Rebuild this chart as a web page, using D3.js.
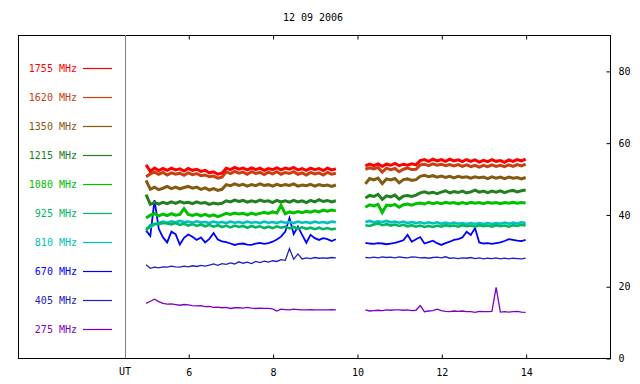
<!DOCTYPE html>
<html><head><meta charset="utf-8">
<script src="https://cdn.jsdelivr.net/npm/d3@7"></script>
<style>body{margin:0;background:#fff}svg{display:block}text{font-family:"DejaVu Sans Mono",monospace;font-size:10px}</style>
</head><body><svg id="c" width="640" height="384"></svg>
<script>
const title = "12 09 2006";
const xTicks = [6, 8, 10, 12, 14];
const yTicks = [0, 20, 40, 60, 80];
const freqs = ["1755 MHz","1620 MHz","1350 MHz","1215 MHz","1080 MHz","925 MHz","810 MHz","670 MHz","405 MHz","275 MHz"];
const colors = ["#ff0000","#c84010","#845a10","#208020","#00c000","#00b860","#00c0c0","#0000ff","#2020c0","#8000c0"];
const times1 = [5.0,5.1,5.2,5.3,5.4,5.5,5.6,5.7,5.8,5.9,6.0,6.1,6.2,6.3,6.4,6.5,6.6,6.7,6.8,6.9,7.0,7.1,7.2,7.3,7.4,7.5,7.6,7.7,7.8,7.9,8.0,8.1,8.2,8.3,8.4,8.5,8.6,8.7,8.8,8.9,9.0,9.1,9.2,9.3,9.4,9.5];
const times2 = [10.2,10.3,10.4,10.5,10.6,10.7,10.8,10.9,11.0,11.1,11.2,11.3,11.4,11.5,11.6,11.7,11.8,11.9,12.0,12.1,12.2,12.3,12.4,12.5,12.6,12.7,12.8,12.9,13.0,13.1,13.2,13.3,13.4,13.5,13.6,13.7,13.8,13.9,14.0];

const s1755a = [53.8,52.0,52.9,52.2,52.8,52.3,52.9,52.4,52.7,52.1,52.8,52.3,52.6,52.0,52.3,51.6,51.9,51.2,51.5,52.9,52.5,53.1,52.6,52.9,52.4,53.0,52.5,52.9,52.3,52.8,52.5,53.0,52.4,52.9,52.6,53.1,52.4,52.8,52.3,52.9,52.5,52.8,52.2,52.9,52.4,52.7];
const s1620a = [50.5,51.3,51.8,51.2,51.7,51.0,51.6,51.2,51.5,50.9,51.6,51.1,51.4,50.8,51.0,50.5,50.7,50.1,50.4,51.9,51.4,52.0,51.5,51.8,51.2,51.9,51.4,51.7,51.1,51.8,51.3,51.9,51.2,51.7,51.4,51.9,51.2,51.6,51.0,51.7,51.3,51.6,51.0,51.7,51.2,51.5];
const s1350a = [49.5,47.0,47.6,46.9,47.3,47.8,47.2,47.6,47.1,47.5,47.8,47.3,47.6,47.0,47.4,46.8,47.2,46.7,47.0,48.3,48.0,48.5,48.1,48.4,47.9,48.3,48.0,48.5,48.1,48.3,47.9,48.4,48.0,48.3,48.1,48.5,47.9,48.2,48.0,48.4,47.9,48.3,48.0,48.2,47.8,48.2];
const s1215a = [45.5,42.8,43.3,42.9,43.4,43.0,43.5,43.1,43.6,43.2,43.4,43.0,43.5,43.1,43.3,42.8,43.2,42.9,43.1,43.8,43.5,44.0,43.6,43.9,43.4,43.8,43.5,44.0,43.6,43.8,43.3,43.9,43.5,43.8,43.4,43.9,43.5,43.8,43.3,43.9,43.5,44.1,43.6,43.9,43.5,43.8];
const s1080a = [39.0,39.8,40.2,39.6,40.1,39.7,40.2,39.8,40.0,41.6,40.0,39.7,40.1,39.6,40.0,39.5,39.9,39.4,39.8,40.3,40.0,40.4,40.1,40.3,39.9,40.4,40.0,40.3,40.6,40.3,40.7,40.4,42.5,40.2,40.7,40.4,40.8,40.5,40.9,40.6,41.0,40.7,41.2,40.9,41.2,41.0];
const s925a = [35.5,37.0,37.4,37.3,37.6,37.5,37.2,37.6,37.1,37.4,36.9,37.3,36.8,37.2,36.7,37.1,36.6,37.0,36.5,36.9,36.4,36.9,36.5,36.8,36.3,36.8,36.4,36.7,36.2,36.6,36.2,36.7,36.3,36.6,36.1,36.5,36.0,36.4,36.0,36.3,35.9,36.3,35.9,36.2,35.8,36.1];
const s810a = [36.0,36.5,37.2,37.6,38.0,37.7,38.1,37.8,38.2,37.9,38.0,37.7,38.1,37.8,37.9,37.6,38.0,37.7,37.9,37.6,38.0,37.7,37.9,37.6,38.0,37.7,37.9,37.6,38.0,37.7,37.9,37.6,38.0,37.7,37.9,37.6,38.0,37.7,37.9,37.6,38.0,37.7,37.9,37.6,38.0,37.8];
const s670a = [35.5,34.0,44.0,36.0,33.6,32.2,35.2,34.5,31.6,33.5,34.4,33.8,32.9,33.6,32.2,33.2,34.8,33.0,32.5,32.3,31.9,31.5,31.8,31.9,31.6,31.5,31.9,32.1,31.8,32.0,32.4,33.0,33.8,35.2,39.0,34.5,36.6,34.3,32.1,34.3,33.4,32.9,33.4,33.1,32.6,33.1];
const s405a = [26.0,25.0,25.3,25.1,25.4,25.3,25.6,25.4,25.3,25.6,25.4,25.7,25.5,25.8,25.6,25.9,26.2,25.8,26.3,26.1,26.5,26.2,26.8,26.4,26.7,26.3,26.9,26.6,27.0,26.7,27.1,26.9,27.4,27.2,30.5,27.5,29.0,27.6,27.9,27.7,28.0,27.8,27.9,27.8,28.0,27.9];
const s275a = [15.2,15.8,16.4,15.7,15.2,15.0,15.1,14.9,14.7,14.9,14.8,14.6,14.5,14.6,14.3,14.4,14.1,14.2,14.0,14.1,13.8,14.0,14.0,13.9,14.1,13.9,13.8,13.9,13.8,13.8,13.7,13.1,13.6,13.5,13.4,13.6,13.5,13.4,13.4,13.5,13.4,13.4,13.4,13.4,13.5,13.4];

const s1755b = [53.5,54.0,53.6,54.1,53.4,54.0,53.7,54.2,53.6,54.0,53.7,54.1,53.8,55.0,55.3,54.8,55.4,54.9,55.3,54.8,55.4,54.9,55.2,54.7,55.3,54.8,55.2,54.6,55.1,54.7,55.3,54.8,55.0,54.5,55.2,54.8,55.3,54.9,55.4];
const s1620b = [52.6,53.0,52.7,53.1,51.8,52.9,52.5,52.8,51.9,52.6,52.9,52.5,52.6,53.8,54.0,53.6,54.1,53.7,54.0,53.6,53.9,53.5,53.9,53.4,53.8,53.3,53.7,53.2,53.7,53.3,53.8,53.4,53.7,53.3,53.8,53.4,53.9,53.5,54.0];
const s1350b = [48.5,50.0,49.6,50.1,48.6,49.9,49.6,50.0,48.8,49.7,49.9,49.5,49.7,50.6,50.9,50.5,50.8,50.4,50.7,50.3,50.6,50.2,50.6,50.3,50.5,50.1,50.5,50.2,50.4,50.0,50.5,50.1,50.4,50.0,50.4,50.1,50.3,49.9,50.3];
const s1215b = [44.6,45.3,45.0,45.6,44.2,45.2,44.9,45.4,44.3,45.1,45.3,45.0,45.4,46.0,46.3,45.9,46.2,45.8,46.2,46.6,46.0,46.4,46.1,46.5,46.0,46.3,46.8,46.2,46.5,46.1,46.5,46.2,46.6,46.1,46.5,46.7,46.3,46.6,46.8];
const s1080b = [42.0,42.7,42.4,42.8,40.5,42.6,42.4,42.8,42.0,42.7,42.9,42.6,43.0,43.2,42.9,43.4,43.0,43.3,43.0,43.4,43.1,43.3,42.9,43.3,43.0,43.4,43.1,43.3,43.0,43.4,43.1,43.3,43.0,43.3,43.1,43.4,43.1,43.3,43.2];
const s925b = [37.0,36.8,37.2,37.5,37.0,37.3,36.9,37.2,36.8,37.1,36.7,37.0,36.6,36.9,36.5,36.8,36.5,36.9,36.6,37.0,36.7,36.9,36.6,37.0,36.7,36.9,36.6,37.0,36.7,36.9,36.6,37.0,36.7,36.9,36.6,37.0,36.8,37.1,36.9];
const s810b = [37.9,38.2,37.8,38.1,37.9,38.2,37.8,38.0,37.7,38.0,37.6,37.9,37.6,37.8,37.5,37.8,37.5,37.8,37.4,37.7,37.4,37.7,37.4,37.6,37.3,37.6,37.3,37.6,37.3,37.6,37.3,37.6,37.4,37.7,37.4,37.7,37.5,37.8,37.6];
const s670b = [32.1,31.9,31.8,32.0,31.9,31.7,31.9,32.1,32.4,32.8,34.3,32.4,33.1,33.7,31.9,32.3,32.7,32.0,31.5,32.0,32.4,32.9,33.1,33.6,35.2,34.3,36.2,32.2,31.9,32.0,31.8,32.0,32.2,32.6,33.1,32.9,32.7,32.6,32.9];
const s405b = [28.0,27.9,28.1,27.9,28.2,28.0,28.1,27.9,28.2,28.0,27.9,28.2,28.1,27.9,28.0,27.8,28.0,28.1,27.9,28.2,27.8,27.9,27.7,27.9,27.8,28.0,27.7,27.9,27.6,27.8,27.7,27.9,27.6,27.8,27.6,27.8,27.7,27.6,27.8];
const s275b = [13.4,13.1,13.2,13.3,13.2,13.4,13.3,13.4,13.4,13.3,13.4,13.2,13.3,14.6,12.9,13.1,13.2,13.6,13.2,13.0,12.9,13.1,13.0,13.1,12.9,12.9,12.7,13.0,12.9,12.9,13.0,19.7,12.8,12.9,12.8,12.9,13.0,12.8,12.7];

const segA = [s1755a,s1620a,s1350a,s1215a,s1080a,s925a,s810a,s670a,s405a,s275a];
const segB = [s1755b,s1620b,s1350b,s1215b,s1080b,s925b,s810b,s670b,s405b,s275b];
const widths = [3,3,3,3,3,2.6,2.6,1.8,1.3,1.3];

const svg = d3.select("#c");
const L = 18, R = 610, T = 35, B = 358, SEP = 125;
const x = d3.scaleLinear().domain([4.5, 16]).range([SEP, R]);
const y = d3.scaleLinear().domain([0, 90]).range([B, T]);

svg.append("text").attr("x", 313).attr("y", 21).attr("text-anchor", "middle").text(title);

// frame
svg.append("rect").attr("x", L+0.5).attr("y", T+0.5).attr("width", R-L).attr("height", B-T)
  .attr("fill", "none").attr("stroke", "#000");
svg.append("line").attr("x1", SEP+0.5).attr("x2", SEP+0.5).attr("y1", T).attr("y2", B)
  .attr("stroke", "#808080");

// axes
const gBottom = svg.append("g").attr("transform", `translate(0.5,${B+0.5})`)
  .call(d3.axisBottom(x).tickValues(xTicks).tickSize(-4).tickPadding(10).tickFormat(d3.format("d")));
const gTop = svg.append("g").attr("transform", `translate(0.5,${T+0.5})`)
  .call(d3.axisTop(x).tickValues(xTicks).tickSize(-4).tickFormat(""));
const gRight = svg.append("g").attr("transform", `translate(${R+0.5},0.5)`)
  .call(d3.axisRight(y).tickValues(yTicks).tickSize(-4).tickPadding(8));
[gBottom, gTop, gRight].forEach(g => {
  g.select(".domain").remove();
  g.selectAll("text").attr("font-family", '"DejaVu Sans Mono",monospace').attr("font-size", 10).attr("fill", "#000");
  g.selectAll("line").attr("stroke", "#000");
});
svg.append("text").attr("x", SEP).attr("y", B + 17).attr("text-anchor", "middle").text("UT");

// legend
const ly = d3.scalePoint().domain(freqs).range([68, 329]);
freqs.forEach((f, i) => {
  svg.append("text").attr("x", 77).attr("y", ly(f)).attr("dy", "0.35em")
    .attr("text-anchor", "end").attr("fill", colors[i]).text(f);
  svg.append("line").attr("x1", 83).attr("x2", 112).attr("y1", ly(f)+0.5).attr("y2", ly(f)+0.5)
    .attr("stroke", colors[i]).attr("stroke-width", 1.2);
});

// data
const line = d3.line().x(d => x(d[0])).y(d => y(d[1]));
for (let i = freqs.length - 1; i >= 0; i--) {
  [[times1, segA[i]], [times2, segB[i]]].forEach(([t, v]) => {
    svg.append("path").datum(t.map((tt, k) => [tt, v[k]]))
      .attr("d", line).attr("fill", "none").attr("stroke", colors[i])
      .attr("stroke-width", widths[i]).attr("stroke-linejoin", "miter");
  });
}
</script></body></html>
